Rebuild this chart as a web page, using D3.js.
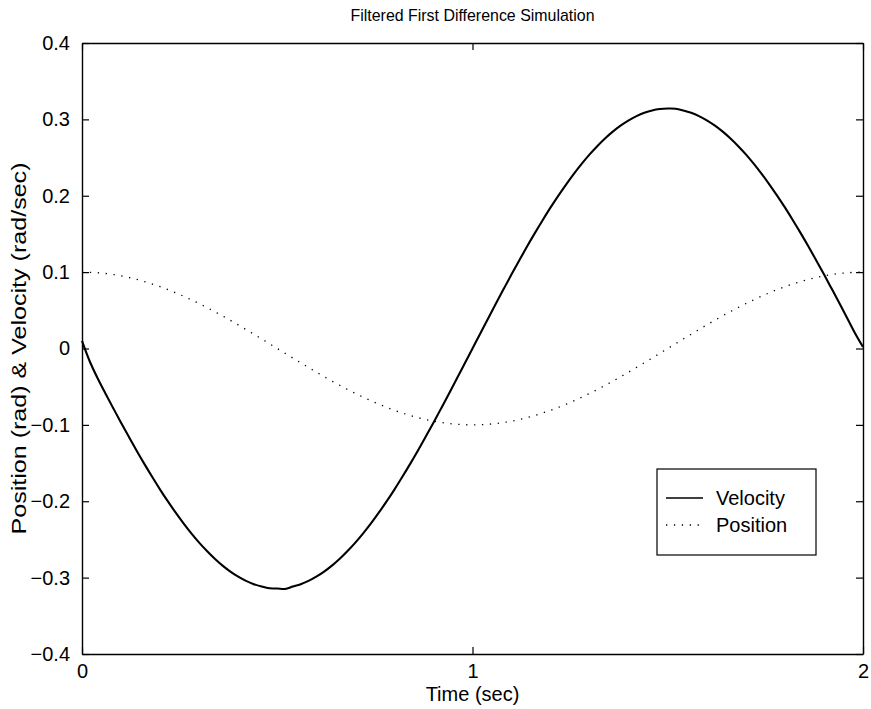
<!DOCTYPE html>
<html>
<head>
<meta charset="utf-8">
<script src="https://cdn.jsdelivr.net/npm/d3@7"></script>
<style>
  html, body { margin: 0; padding: 0; background: #fff; }
  svg { display: block; font-family: "Liberation Sans", Arial, Helvetica, sans-serif; }
</style>
</head>
<body>
<svg id="chart" width="871" height="709"></svg>
<script>
// Simulation output sampled every 0.02 s (velocity) and 0.04 s (position)
const velocityStep = 0.02;
const velocity = [
  0.0100, -0.0170, -0.0390, -0.0589, -0.0781, -0.0971, -0.1156, -0.1338, -0.1514, -0.1683,
  -0.1847, -0.2002, -0.2150, -0.2290, -0.2421, -0.2542, -0.2652, -0.2753, -0.2843, -0.2921,
  -0.2988, -0.3043, -0.3086, -0.3117, -0.3140, -0.3142,
  -0.3148, -0.3117, -0.3086, -0.3043, -0.2988, -0.2921, -0.2843, -0.2753, -0.2652, -0.2542,
  -0.2421, -0.2290, -0.2150, -0.2002, -0.1847, -0.1683, -0.1514, -0.1338, -0.1156, -0.0971,
  -0.0781, -0.0589, -0.0394, -0.0197, 0.0000,
  0.0197, 0.0394, 0.0589, 0.0781, 0.0971, 0.1156, 0.1338, 0.1514, 0.1683, 0.1847,
  0.2002, 0.2150, 0.2290, 0.2421, 0.2542, 0.2652, 0.2753, 0.2843, 0.2921, 0.2988,
  0.3043, 0.3086, 0.3117, 0.3135, 0.3142,
  0.3140, 0.3117, 0.3086, 0.3043, 0.2988, 0.2921, 0.2843, 0.2753, 0.2652, 0.2542,
  0.2421, 0.2290, 0.2150, 0.2002, 0.1847, 0.1683, 0.1514, 0.1338, 0.1156, 0.0971,
  0.0781, 0.0589, 0.0394, 0.0197, 0.0020
];

const positionStep = 0.04;
const position = [
  0.1000, 0.0992, 0.0969, 0.0930, 0.0876, 0.0809, 0.0729, 0.0637, 0.0536, 0.0426,
  0.0309, 0.0187, 0.0063, -0.0063, -0.0187, -0.0309, -0.0426, -0.0536, -0.0637, -0.0729,
  -0.0809, -0.0876, -0.0930, -0.0969, -0.0992, -0.1000,
  -0.0992, -0.0969, -0.0930, -0.0876, -0.0809, -0.0729, -0.0637, -0.0536, -0.0426, -0.0309,
  -0.0187, -0.0063, 0.0063, 0.0187, 0.0309, 0.0426, 0.0536, 0.0637, 0.0729, 0.0809,
  0.0876, 0.0930, 0.0969, 0.0992, 0.1000
];

const xTicks = [0, 1, 2];
const yTicks = [-0.4, -0.3, -0.2, -0.1, 0, 0.1, 0.2, 0.3, 0.4];
const seriesNames = ["Velocity", "Position"];

const svg = d3.select("#chart");
const margin = { left: 82, right: 8, top: 43, bottom: 55 };
const W = 871, H = 709;
const plotW = W - margin.left - margin.right;
const plotH = H - margin.top - margin.bottom;

const x = d3.scaleLinear().domain([0, 2]).range([margin.left, margin.left + plotW]);
const y = d3.scaleLinear().domain([-0.4, 0.4]).range([margin.top + plotH, margin.top]);

const velData = velocity.map((v, i) => [i * velocityStep, v]);
const posData = position.map((v, i) => [i * positionStep, v]);

// Curves
svg.append("path").datum(posData)
  .attr("d", d3.line().x(d => x(d[0])).y(d => y(d[1])).curve(d3.curveCatmullRom))
  .attr("fill", "none").attr("stroke", "#000")
  .attr("stroke-width", 1.3).attr("stroke-dasharray", "1.3 6.6");

svg.append("path").datum(velData)
  .attr("d", d3.line().x(d => x(d[0])).y(d => y(d[1])).curve(d3.curveCatmullRom))
  .attr("fill", "none").attr("stroke", "#000")
  .attr("stroke-width", 2.1).attr("stroke-linejoin", "round");

// Axes (ticks point inward, mirrored on the opposite sides)
const tickLen = 7;
const axisFont = "20px";

const gBottom = svg.append("g").attr("transform", `translate(0,${margin.top + plotH})`)
  .call(d3.axisBottom(x).tickValues(xTicks).tickFormat(d3.format("d"))
    .tickSizeInner(-tickLen).tickSizeOuter(0).tickPadding(10));
const gTop = svg.append("g").attr("transform", `translate(0,${margin.top})`)
  .call(d3.axisTop(x).tickValues(xTicks).tickFormat("")
    .tickSizeInner(-tickLen).tickSizeOuter(0));
const gLeft = svg.append("g").attr("transform", `translate(${margin.left},0)`)
  .call(d3.axisLeft(y).tickValues(yTicks)
    .tickFormat(d => d === 0 ? "0" : d3.format(".1f")(d).replace("-", "\u2212"))
    .tickSizeInner(-tickLen).tickSizeOuter(0).tickPadding(12));
const gRight = svg.append("g").attr("transform", `translate(${margin.left + plotW},0)`)
  .call(d3.axisRight(y).tickValues(yTicks).tickFormat("")
    .tickSizeInner(-tickLen).tickSizeOuter(0));

[gBottom, gTop, gLeft, gRight].forEach(g => {
  g.select(".domain").attr("stroke", "#000").attr("stroke-width", 1.4);
  g.selectAll(".tick line").attr("stroke", "#000").attr("stroke-width", 1.2);
  g.selectAll(".tick text").attr("fill", "#000")
    .style("font-size", axisFont).style("font-family", "'Liberation Sans', Arial, sans-serif");
});

// Titles
svg.append("text")
  .attr("x", margin.left + plotW / 2).attr("y", 21)
  .attr("text-anchor", "middle").style("font-size", "17px")
  .attr("textLength", 244).attr("lengthAdjust", "spacingAndGlyphs")
  .text("Filtered First Difference Simulation");

svg.append("text")
  .attr("x", margin.left + plotW / 2).attr("y", 701)
  .attr("text-anchor", "middle").style("font-size", "20px")
  .text("Time (sec)");

svg.append("text")
  .attr("transform", `translate(26,${margin.top + plotH / 2}) rotate(-90)`)
  .attr("text-anchor", "middle").style("font-size", "21px")
  .attr("textLength", 372).attr("lengthAdjust", "spacingAndGlyphs")
  .text("Position (rad) & Velocity (rad/sec)");

// Legend
const lg = svg.append("g").attr("transform", "translate(657,469)");
lg.append("rect").attr("width", 159).attr("height", 86)
  .attr("fill", "#fff").attr("stroke", "#000").attr("stroke-width", 1.2);
const legendRows = [
  { name: seriesNames[0], dash: null, w: 1.5, y: 29 },
  { name: seriesNames[1], dash: "1.3 6.6", w: 1.3, y: 56 }
];
legendRows.forEach(r => {
  lg.append("line").attr("x1", 9).attr("x2", 46).attr("y1", r.y).attr("y2", r.y)
    .attr("stroke", "#000").attr("stroke-width", r.w)
    .attr("stroke-dasharray", r.dash);
  lg.append("text").attr("x", 59).attr("y", r.y + 7)
    .style("font-size", "20px").text(r.name);
});
</script>
</body>
</html>
